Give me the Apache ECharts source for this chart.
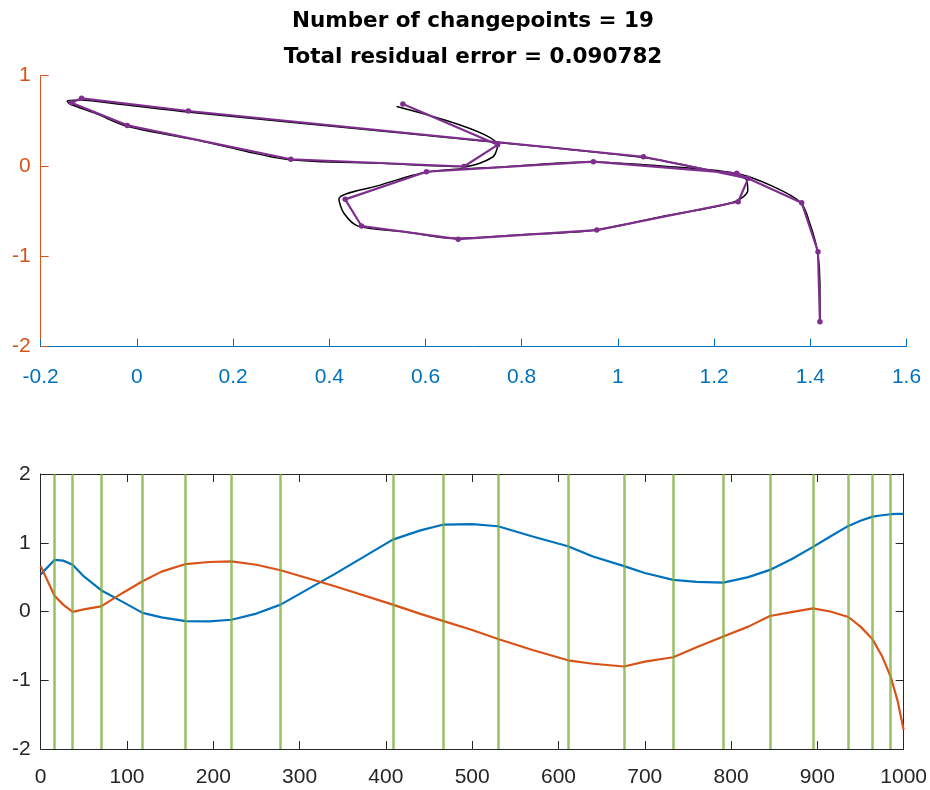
<!DOCTYPE html>
<html>
<head>
<meta charset="utf-8">
<script src="https://cdn.jsdelivr.net/npm/echarts@6/dist/echarts.min.js"></script>
<style>
html,body{margin:0;padding:0;background:#fff;}
#chart{width:930px;height:790px;}
</style>
</head>
<body>
<div id="chart"></div>
<script>
// ---- data ----
const titleLine1 = 'Number of changepoints = 19';
const titleLine2 = 'Total residual error = 0.090782';

// sample times of the signals (bottom panel x)
const sampleTimes = [0, 16, 26, 37, 50, 70, 95, 118, 140, 168, 195, 221, 250, 278, 340, 408, 440, 467, 500, 530, 570, 611, 640, 676, 700, 733, 760, 791, 820, 845, 870, 895, 915, 936, 950, 964, 975, 985, 993, 1000];
// signal 1 (blue)
const blueValues = [0.54, 0.75, 0.74, 0.68, 0.51, 0.31, 0.14, -0.02, -0.085, -0.14, -0.145, -0.12, -0.03, 0.10, 0.54, 1.045, 1.18, 1.265, 1.27, 1.24, 1.09, 0.95, 0.80, 0.66, 0.56, 0.46, 0.43, 0.42, 0.50, 0.605, 0.76, 0.94, 1.09, 1.245, 1.32, 1.38, 1.40, 1.415, 1.42, 1.42];
// signal 2 (orange)
const orangeValues = [0.66, 0.23, 0.10, -0.005, 0.03, 0.075, 0.27, 0.44, 0.58, 0.69, 0.72, 0.73, 0.68, 0.60, 0.37, 0.10, -0.035, -0.14, -0.27, -0.40, -0.56, -0.71, -0.76, -0.80, -0.73, -0.665, -0.52, -0.365, -0.22, -0.065, -0.01, 0.045, 0.00, -0.08, -0.22, -0.405, -0.65, -0.95, -1.30, -1.72];

// detected changepoints (bottom panel vertical lines)
const changepoints = [16, 37, 70, 118, 168, 221, 278, 408, 467, 530, 611, 676, 733, 791, 845, 895, 936, 964, 985];

// piecewise-linear fit vertices in the (signal1, signal2) plane (top panel, purple)
const fitX = [0.553, 0.750, 0.680, 0.320, -0.020, -0.136, -0.115, 0.107, 1.053, 1.271, 1.250, 0.956, 0.668, 0.467, 0.433, 0.602, 0.949, 1.247, 1.382, 1.416, 1.420];
const fitY = [0.687, 0.235, -0.005, 0.075, 0.450, 0.700, 0.750, 0.609, 0.103, -0.136, -0.395, -0.709, -0.810, -0.664, -0.369, -0.063, 0.048, -0.081, -0.406, -0.949, -1.724];

// axis ranges / ticks
const topX = {min: -0.2, max: 1.6, step: 0.2};
const topY = {min: -2, max: 1, step: 1};
const botX = {min: 0, max: 1000, step: 100};
const botY = {min: -2, max: 2, step: 1};

// ---- colours ----
const C_BLUE = '#0072BD', C_ORANGE = '#D95319', C_PURPLE = '#7E2F8E', C_GREEN = '#77AC30', C_AX = '#262626';
const LABEL_FONT = 'Liberation Sans';

const rawPairs = blueValues.map((b, i) => [b, orangeValues[i]]);
const fitPairs = fitX.map((x, i) => [x, fitY[i]]);
const bluePts = sampleTimes.map((t, i) => [t, blueValues[i]]);
const orangePts = sampleTimes.map((t, i) => [t, orangeValues[i]]);

const chart = echarts.init(document.getElementById('chart'), null, {renderer: 'canvas'});

function fmtDec(v) { return String(Math.round(v * 10) / 10); }
function fmtInt(v) { return String(Math.round(v)); }

const tick = (color) => ({show: true, inside: true, length: 8, lineStyle: {color: color, width: 1}});
const line = (color) => ({show: true, onZero: false, lineStyle: {color: color, width: 1}});
const titleStyle = {fontFamily: 'DejaVu Sans', fontWeight: 'bold', fontSize: 21.5, color: '#000'};

chart.setOption({
  animation: false,
  backgroundColor: '#fff',
  title: [
    {text: titleLine1, left: 473, top: 10, textAlign: 'center', padding: 0, textStyle: titleStyle},
    {text: titleLine2, left: 473, top: 46, textAlign: 'center', padding: 0, textStyle: titleStyle}
  ],
  grid: [
    {left: 40.7, top: 75.7, width: 865.8, height: 271, containLabel: false},
    {left: 40.7, top: 474, width: 866, height: 275, containLabel: false}
  ],
  xAxis: [
    {gridIndex: 0, type: 'value', min: topX.min, max: topX.max, interval: topX.step,
     axisLine: line(C_BLUE), axisTick: tick(C_BLUE), splitLine: {show: false},
     axisLabel: {color: C_BLUE, fontSize: 21, fontFamily: LABEL_FONT, margin: 20, formatter: fmtDec, showMinLabel: true, showMaxLabel: true}},
    {gridIndex: 1, type: 'value', min: botX.min, max: botX.max, interval: botX.step,
     axisLine: line(C_AX), axisTick: tick(C_AX), splitLine: {show: false},
     axisLabel: {color: C_AX, fontSize: 21, fontFamily: LABEL_FONT, margin: 18, formatter: fmtInt, showMinLabel: true, showMaxLabel: true}},
    {gridIndex: 1, type: 'value', position: 'top', min: botX.min, max: botX.max, interval: botX.step,
     axisLine: line(C_AX), axisTick: tick(C_AX), splitLine: {show: false}, axisLabel: {show: false}}
  ],
  yAxis: [
    {gridIndex: 0, type: 'value', min: topY.min, max: topY.max, interval: topY.step,
     axisLine: line(C_ORANGE), axisTick: tick(C_ORANGE), splitLine: {show: false},
     axisLabel: {color: C_ORANGE, fontSize: 21, fontFamily: LABEL_FONT, margin: 10, formatter: fmtInt, showMinLabel: true, showMaxLabel: true}},
    {gridIndex: 1, type: 'value', min: botY.min, max: botY.max, interval: botY.step,
     axisLine: line(C_AX), axisTick: tick(C_AX), splitLine: {show: false},
     axisLabel: {color: C_AX, fontSize: 21, fontFamily: LABEL_FONT, margin: 10, formatter: fmtInt, showMinLabel: true, showMaxLabel: true}},
    {gridIndex: 1, type: 'value', position: 'right', min: botY.min, max: botY.max, interval: botY.step,
     axisLine: line(C_AX), axisTick: tick(C_AX), splitLine: {show: false}, axisLabel: {show: false}}
  ],
  series: [
    {type: 'line', xAxisIndex: 0, yAxisIndex: 0, data: rawPairs, showSymbol: false, symbol: 'none', smooth: 0.3,
     lineStyle: {color: '#000', width: 1.5}, z: 2, silent: true},
    {type: 'line', xAxisIndex: 0, yAxisIndex: 0, data: fitPairs, symbol: 'circle', symbolSize: 5.5,
     itemStyle: {color: C_PURPLE}, lineStyle: {color: C_PURPLE, width: 2.2}, z: 3, silent: true},
    {type: 'line', xAxisIndex: 1, yAxisIndex: 1, data: [], z: 1, silent: true,
     markLine: {silent: true, symbol: ['none', 'none'], label: {show: false},
       lineStyle: {color: C_GREEN, width: 2.5, type: 'solid', opacity: 0.75},
       data: changepoints.map(c => ({xAxis: c}))}},
    {type: 'line', xAxisIndex: 1, yAxisIndex: 1, data: bluePts, showSymbol: false, symbol: 'none',
     lineStyle: {color: C_BLUE, width: 2.2}, z: 3, silent: true},
    {type: 'line', xAxisIndex: 1, yAxisIndex: 1, data: orangePts, showSymbol: false, symbol: 'none',
     lineStyle: {color: C_ORANGE, width: 2.2}, z: 3, silent: true}
  ]
});
</script>
</body>
</html>
